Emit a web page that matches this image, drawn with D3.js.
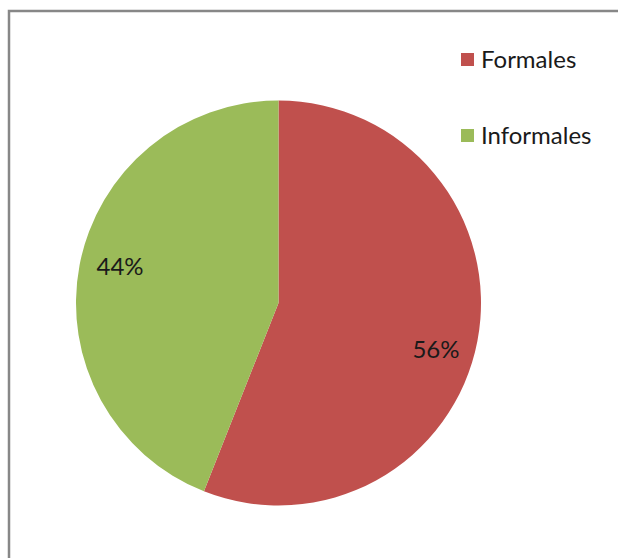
<!DOCTYPE html>
<html><head><meta charset="utf-8">
<script src="https://cdn.jsdelivr.net/npm/d3@7"></script>
<style>html,body{margin:0;padding:0;background:#fff;}svg{display:block;}</style>
</head><body>
<script>
const categories = ["Formales", "Informales"];
const values = [56, 44];
const labels = ["56%", "44%"];
const colors = ["#C0504D", "#9BBB59"];

const W = 618, H = 558;
const svg = d3.select("body").append("svg").attr("width", W).attr("height", H);

// frame
svg.append("path").attr("d", "M9,558 V11 H618").attr("fill", "none")
  .attr("stroke", "#878787").attr("stroke-width", 2.5);

const cx = 278.5, cy = 303, r = 202.5;
const pie = d3.pie().sort(null).value(d => d)(values);
const arc = d3.arc().innerRadius(0).outerRadius(r);
const g = svg.append("g").attr("transform", `translate(${cx},${cy})`);
g.selectAll("path").data(pie).join("path")
  .attr("d", arc).attr("fill", (d, i) => colors[i]);

const labelPos = [[436, 348], [120, 265]];
g.selectAll("text").data(pie).join("text")
  .attr("x", (d, i) => labelPos[i][0] - cx)
  .attr("y", (d, i) => labelPos[i][1] - cy)
  .attr("text-anchor", "middle").attr("dominant-baseline", "central")
  .attr("font-family", "Lato, 'Open Sans', sans-serif").attr("font-size", 24)
  .attr("fill", "#1a1a1a")
  .text((d, i) => labels[i]);

const leg = svg.append("g").attr("transform", "translate(461,52)");
const items = leg.selectAll("g").data(categories).join("g")
  .attr("transform", (d, i) => `translate(0,${i * 76})`);
items.append("rect").attr("width", 13).attr("height", 13).attr("y", 1)
  .attr("fill", (d, i) => colors[i]);
items.append("text").attr("x", 20).attr("y", 15.5)
  .attr("font-family", "Lato, 'Open Sans', sans-serif").attr("font-size", 24)
  .attr("fill", "#1a1a1a").text(d => d);
</script>
</body></html>
